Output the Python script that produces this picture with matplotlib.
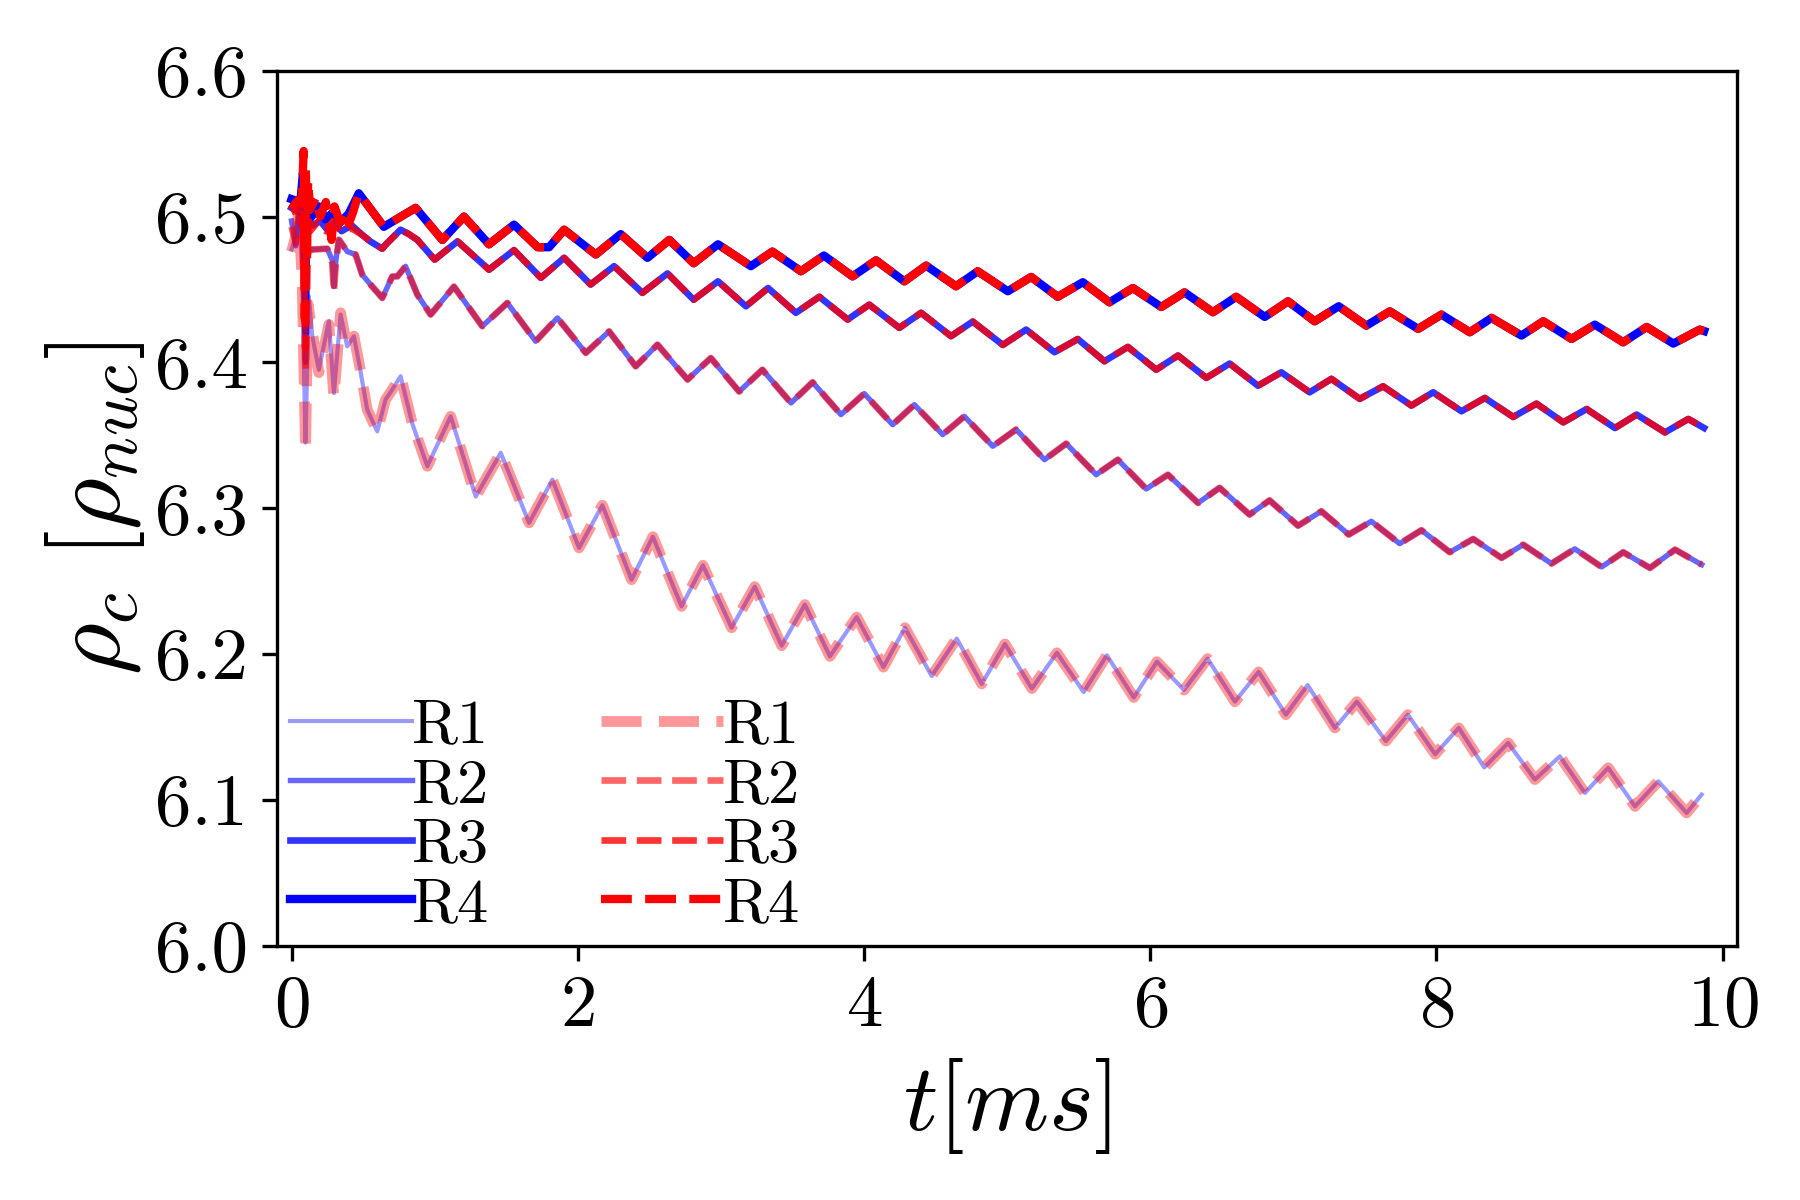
import matplotlib
matplotlib.use("Agg")
import matplotlib.pyplot as plt
import numpy as np

# ---- LaTeX-like look without LaTeX ----
plt.rcParams.update({
    "font.family": "serif",
    "font.serif": ["cmr10"],
    "mathtext.fontset": "cm",
    "axes.formatter.use_mathtext": True,
    "axes.unicode_minus": False,
})

# ---- data: t [ms], rho_c [rho_nuc] ----
# early transients (differ between the two runs)
r1_blue_t0 = [0.0, 0.028, 0.051, 0.075, 0.086, 0.098, 0.11, 0.121, 0.145, 0.191, 0.261, 0.296, 0.343, 0.389, 0.436, 0.471]
r1_blue_y0 = [6.4774, 6.4865, 6.5048, 6.46, 6.40, 6.345, 6.40, 6.4453, 6.418, 6.395, 6.4282, 6.379, 6.4328, 6.411, 6.4179, 6.40]
r1_red_t0 = [0.0, 0.028, 0.051, 0.075, 0.098, 0.115, 0.13, 0.191, 0.261, 0.296, 0.343, 0.389, 0.436, 0.471]
r1_red_y0 = [6.476, 6.486, 6.503, 6.455, 6.339, 6.44, 6.43, 6.393, 6.426, 6.376, 6.434, 6.410, 6.418, 6.40]

r2_blue_t0 = [0.0, 0.03, 0.05, 0.08, 0.098, 0.11, 0.145, 0.25, 0.285, 0.296, 0.31, 0.331, 0.39, 0.448]
r2_blue_y0 = [6.497, 6.480, 6.500, 6.49, 6.40, 6.478, 6.4774, 6.478, 6.47, 6.452, 6.47, 6.4842, 6.476, 6.474]
r2_red_t0 = [0.0, 0.03, 0.05, 0.08, 0.10, 0.115, 0.145, 0.25, 0.285, 0.296, 0.31, 0.331, 0.39, 0.448]
r2_red_y0 = [6.493, 6.482, 6.502, 6.488, 6.395, 6.476, 6.4774, 6.478, 6.468, 6.448, 6.468, 6.4842, 6.476, 6.474]

r3_blue_t0 = [0.0, 0.05, 0.08, 0.10, 0.11, 0.15, 0.2, 0.25, 0.30, 0.35, 0.42]
r3_blue_y0 = [6.506, 6.503, 6.512, 6.42, 6.50, 6.494, 6.497, 6.491, 6.496, 6.490, 6.494]
r3_red_t0 = [0.0, 0.05, 0.08, 0.095, 0.105, 0.13, 0.18, 0.24, 0.29, 0.35, 0.42]
r3_red_y0 = [6.503, 6.505, 6.52, 6.41, 6.51, 6.49, 6.496, 6.49, 6.497, 6.489, 6.492]

r4_blue_t0 = [0.0, 0.03, 0.06, 0.08, 0.095, 0.11, 0.14, 0.19, 0.24, 0.29, 0.34, 0.40]
r4_blue_y0 = [6.512, 6.511, 6.508, 6.530, 6.506, 6.512, 6.500, 6.507, 6.498, 6.503, 6.496, 6.502]
r4_red_t0 = [0.0, 0.04, 0.07, 0.085, 0.093, 0.10, 0.108, 0.116, 0.13, 0.17, 0.20, 0.24, 0.28, 0.30, 0.34, 0.37, 0.40, 0.43]
r4_red_y0 = [6.505, 6.511, 6.509, 6.545, 6.43, 6.535, 6.47, 6.525, 6.505, 6.513, 6.500, 6.510, 6.484, 6.507, 6.496, 6.503, 6.495, 6.503]

# common oscillating part (both runs overlap)
r1_t = [0.529, 0.599, 0.657, 0.704, 0.762, 0.844, 0.949, 1.112, 1.287, 1.462, 1.66, 1.823, 2.009, 2.172,
        2.376, 2.525, 2.725, 2.875, 3.075, 3.237, 3.425, 3.587, 3.762, 3.949, 4.136, 4.286, 4.473, 4.648,
        4.823, 4.985, 5.173, 5.348, 5.535, 5.697, 5.885, 6.047, 6.236, 6.401, 6.592, 6.757, 6.948, 7.1,
        7.291, 7.444, 7.647, 7.8, 7.991, 8.156, 8.334, 8.501, 8.688, 8.862, 9.037, 9.2, 9.387, 9.55,
        9.748, 9.853]
r1_y = [6.3676, 6.3527, 6.3745, 6.3813, 6.3905, 6.358, 6.3288, 6.363, 6.308, 6.338, 6.29, 6.3196, 6.2728, 6.302,
        6.251, 6.2804, 6.2327, 6.2608, 6.218, 6.2462, 6.2057, 6.2339, 6.1984, 6.2253, 6.191, 6.218, 6.1849, 6.2106,
        6.1795, 6.2069, 6.1763, 6.2008, 6.1739, 6.1991, 6.1702, 6.1947, 6.1753, 6.1968, 6.1673, 6.1877, 6.1584, 6.1787,
        6.1493, 6.1673, 6.1403, 6.1584, 6.1313, 6.1493, 6.1222, 6.139, 6.1139, 6.1298, 6.1047, 6.1219, 6.0955, 6.1127,
        6.091, 6.1036]

r2_t = [0.494, 0.552, 0.634, 0.704, 0.74, 0.797, 0.879, 0.972, 1.135, 1.333, 1.508, 1.706, 1.858, 2.056,
        2.219, 2.405, 2.557, 2.767, 2.93, 3.128, 3.29, 3.49, 3.641, 3.839, 4.002, 4.2, 4.352, 4.55,
        4.701, 4.9, 5.063, 5.261, 5.413, 5.622, 5.774, 5.972, 6.124, 6.334, 6.485, 6.694, 6.834, 7.033,
        7.196, 7.387, 7.545, 7.743, 7.895, 8.093, 8.257, 8.455, 8.606, 8.804, 8.967, 9.154, 9.305, 9.492,
        9.667, 9.853]
r2_y = [6.4602, 6.4534, 6.4442, 6.4589, 6.459, 6.4659, 6.4465, 6.4328, 6.452, 6.4248, 6.4408, 6.4145, 6.4305, 6.4065,
        6.4213, 6.3973, 6.4122, 6.3882, 6.403, 6.380, 6.395, 6.3722, 6.3864, 6.3642, 6.3786, 6.3573, 6.371, 6.3505,
        6.363, 6.3425, 6.354, 6.3333, 6.3443, 6.323, 6.3333, 6.3132, 6.323, 6.3036, 6.314, 6.2956, 6.3054, 6.288,
        6.2979, 6.2819, 6.291, 6.2757, 6.2849, 6.2698, 6.2789, 6.2659, 6.275, 6.262, 6.2721, 6.2597, 6.2698, 6.259,
        6.2716, 6.2613]

r3_t = [0.50, 0.55, 0.634, 0.66, 0.762, 0.82, 0.88, 1.00, 1.16, 1.38, 1.555, 1.742, 1.905, 2.09,
        2.254, 2.452, 2.627, 2.81, 2.98, 3.175, 3.33, 3.524, 3.688, 3.886, 4.037, 4.247, 4.399, 4.608,
        4.76, 4.97, 5.133, 5.331, 5.494, 5.68, 5.844, 6.042, 6.194, 6.392, 6.555, 6.753, 6.916, 7.114,
        7.266, 7.464, 7.627, 7.825, 7.977, 8.175, 8.338, 8.536, 8.699, 8.886, 9.049, 9.247, 9.399, 9.597,
        9.76, 9.87]
r3_y = [6.487, 6.483, 6.478, 6.481, 6.491, 6.488, 6.484, 6.4705, 6.483, 6.4636, 6.477, 6.458, 6.4717, 6.4534,
        6.466, 6.4477, 6.461, 6.443, 6.4556, 6.4385, 6.451, 6.434, 6.445, 6.4294, 6.4396, 6.4237, 6.434, 6.418,
        6.428, 6.412, 6.4225, 6.407, 6.416, 6.4008, 6.4106, 6.395, 6.4047, 6.3894, 6.3992, 6.384, 6.3932, 6.3795,
        6.3887, 6.375, 6.3836, 6.3704, 6.3795, 6.3665, 6.3756, 6.3626, 6.3717, 6.3589, 6.368, 6.355, 6.3642, 6.352,
        6.3612, 6.355]

r4_t = [0.47, 0.645, 0.867, 1.054, 1.205, 1.38, 1.555, 1.72, 1.80, 1.905, 2.126, 2.30, 2.487, 2.64,
        2.81, 2.98, 3.21, 3.36, 3.56, 3.72, 3.92, 4.084, 4.282, 4.434, 4.643, 4.795, 5.005, 5.168,
        5.354, 5.529, 5.715, 5.879, 6.077, 6.24, 6.438, 6.601, 6.8, 6.963, 7.149, 7.317, 7.51, 7.674,
        7.872, 8.035, 8.233, 8.385, 8.594, 8.746, 8.944, 9.107, 9.305, 9.469, 9.655, 9.84, 9.87]
r4_y = [6.516, 6.493, 6.506, 6.484, 6.500, 6.481, 6.4945, 6.479, 6.479, 6.491, 6.474, 6.488, 6.4717, 6.484,
        6.468, 6.481, 6.466, 6.476, 6.4625, 6.4733, 6.459, 6.470, 6.4556, 6.4664, 6.4522, 6.4625, 6.4488, 6.4586,
        6.445, 6.455, 6.4412, 6.451, 6.438, 6.448, 6.4344, 6.445, 6.4312, 6.4419, 6.4282, 6.4385, 6.4252, 6.435,
        6.423, 6.4328, 6.4207, 6.4305, 6.4184, 6.4282, 6.4161, 6.4259, 6.4138, 6.4243, 6.4129, 6.4225, 6.4215]

labels = ["R1", "R2", "R3", "R4"]
alphas = [0.4, 0.6, 0.8, 1.0]
blue_lw = [1.0, 1.3, 1.6, 2.0]
red_lw = [2.6, 1.6, 1.6, 2.0]

blue_sets = [(r1_blue_t0, r1_blue_y0, r1_t, r1_y), (r2_blue_t0, r2_blue_y0, r2_t, r2_y),
             (r3_blue_t0, r3_blue_y0, r3_t, r3_y), (r4_blue_t0, r4_blue_y0, r4_t, r4_y)]
red_sets = [(r1_red_t0, r1_red_y0, r1_t, r1_y), (r2_red_t0, r2_red_y0, r2_t, r2_y),
            (r3_red_t0, r3_red_y0, r3_t, r3_y), (r4_red_t0, r4_red_y0, r4_t, r4_y)]

fig = plt.figure(figsize=(6, 4), dpi=300)
ax = fig.add_axes([0.154, 0.212, 0.811, 0.729])

for (t0, y0, t, y), a, lw, lab in zip(blue_sets, alphas, blue_lw, labels):
    ax.plot(np.concatenate([t0, t]), np.concatenate([y0, y]), color="blue",
            alpha=a, lw=lw, label=lab)

for (t0, y0, t, y), a, lw, lab in zip(red_sets, alphas, red_lw, labels):
    ax.plot(np.concatenate([t0, t]), np.concatenate([y0, y]), color="red",
            ls="--", alpha=a, lw=lw, label=lab)

ax.set_xlim(-0.1, 10.1)
ax.set_ylim(6.0, 6.6)
ax.set_xticks([0, 2, 4, 6, 8, 10])
ax.set_yticks([6.0, 6.1, 6.2, 6.3, 6.4, 6.5, 6.6])
ax.set_yticklabels(["6.0", "6.1", "6.2", "6.3", "6.4", "6.5", "6.6"])
ax.tick_params(labelsize=17.5)

ax.set_xlabel(r"$t[ms]$", fontsize=23, labelpad=4)
ax.set_ylabel(r"$\rho_c\ [\rho_{nuc}]$", fontsize=24, labelpad=2)

ax.legend(loc="lower left", ncol=2, frameon=False, fontsize=15,
          handlelength=1.95, handletextpad=0.0, labelspacing=0.06,
          columnspacing=1.8, borderaxespad=0.0, borderpad=0.2)

fig.savefig("out.png", dpi=300)
